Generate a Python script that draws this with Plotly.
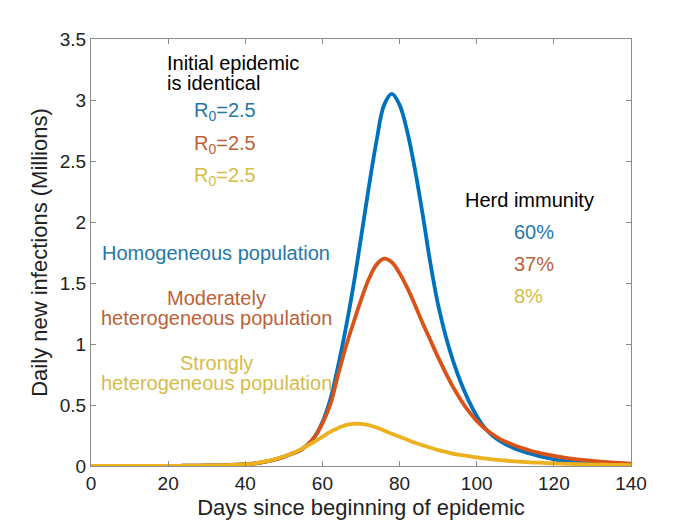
import plotly.graph_objects as go

# days since start of epidemic (every 2 days)
days = list(range(0, 142, 2))

# daily new infections in millions
homogeneous = [
    0.000, 0.000, 0.000, 0.000, 0.000, 0.000, 0.000, 0.001, 0.001, 0.001,
    0.001, 0.001, 0.002, 0.002, 0.003, 0.004, 0.005, 0.006, 0.008, 0.011,
    0.015, 0.020, 0.028, 0.040, 0.055, 0.075, 0.100, 0.125, 0.170, 0.240,
    0.360, 0.540, 0.810, 1.120, 1.470, 1.870, 2.280, 2.660, 2.960, 3.050,
    2.960, 2.740, 2.430, 2.060, 1.660, 1.320, 1.060, 0.850, 0.675, 0.530,
    0.410, 0.315, 0.252, 0.205, 0.170, 0.142, 0.120, 0.100, 0.083, 0.068,
    0.055, 0.044, 0.035, 0.028, 0.022, 0.017, 0.013, 0.010, 0.008, 0.006,
    0.005,
]
moderate = [
    0.000, 0.000, 0.000, 0.000, 0.000, 0.000, 0.000, 0.001, 0.001, 0.001,
    0.001, 0.001, 0.002, 0.002, 0.003, 0.004, 0.005, 0.006, 0.008, 0.011,
    0.015, 0.020, 0.028, 0.040, 0.055, 0.075, 0.100, 0.125, 0.170, 0.240,
    0.350, 0.500, 0.740, 0.970, 1.170, 1.360, 1.530, 1.650, 1.700, 1.670,
    1.580, 1.460, 1.320, 1.170, 1.030, 0.890, 0.760, 0.640, 0.535, 0.445,
    0.370, 0.310, 0.262, 0.223, 0.192, 0.166, 0.144, 0.125, 0.109, 0.095,
    0.083, 0.072, 0.063, 0.055, 0.048, 0.042, 0.036, 0.031, 0.027, 0.023,
    0.020,
]
strong = [
    0.000, 0.000, 0.000, 0.000, 0.000, 0.000, 0.000, 0.001, 0.001, 0.001,
    0.001, 0.001, 0.002, 0.002, 0.003, 0.004, 0.005, 0.006, 0.008, 0.011,
    0.015, 0.020, 0.030, 0.042, 0.058, 0.078, 0.100, 0.130, 0.165, 0.200,
    0.240, 0.280, 0.310, 0.335, 0.345, 0.345, 0.335, 0.315, 0.290, 0.265,
    0.240, 0.215, 0.190, 0.170, 0.150, 0.130, 0.115, 0.100, 0.090, 0.080,
    0.070, 0.062, 0.055, 0.049, 0.043, 0.038, 0.034, 0.030, 0.027, 0.024,
    0.021, 0.019, 0.017, 0.015, 0.013, 0.012, 0.011, 0.010, 0.009, 0.008,
    0.007,
]

scenario_names = ["Homogeneous population", "Moderately heterogeneous population",
                  "Strongly heterogeneous population"]
herd_immunity = ["60%", "37%", "8%"]
r0_labels = ["R<sub>0</sub>=2.5", "R<sub>0</sub>=2.5", "R<sub>0</sub>=2.5"]

x_ticks = [0, 20, 40, 60, 80, 100, 120, 140]
y_ticks = [0, 0.5, 1, 1.5, 2, 2.5, 3, 3.5]

# matlab default colour order
line_colors = ["#0072BD", "#D95319", "#EDB120"]
text_colors = ["#2577A8", "#BC6238", "#D6BC48"]
font = "Liberation Sans, Arial, sans-serif"

fig = go.Figure()
for name, vals, col in zip(scenario_names, [homogeneous, moderate, strong], line_colors):
    fig.add_trace(go.Scatter(x=days, y=vals, mode="lines", name=name,
                             line=dict(color=col, width=3.8, shape="spline", smoothing=1.0)))


def label(x, y, text, color="black", anchor="center"):
    fig.add_annotation(x=x, y=y, xref="x", yref="y", text=text, showarrow=False,
                       xanchor=anchor, yanchor="middle",
                       font=dict(family=font, size=20, color=color))


# left block of text
label(19.2, 3.30, "Initial epidemic", anchor="left")
label(19.2, 3.14, "is identical", anchor="left")
for i, (txt, col) in enumerate(zip(r0_labels, text_colors)):
    label(26.2, 2.905 - 0.267 * i, txt, col, "left")

label(32.5, 1.746, "Homogeneous population", text_colors[0])
label(32.5, 1.377, "Moderately", text_colors[1])
label(32.5, 1.213, "heterogeneous population", text_colors[1])
label(32.5, 0.844, "Strongly", text_colors[2])
label(32.5, 0.680, "heterogeneous population", text_colors[2])

# right block
label(113.8, 2.18, "Herd immunity")
for i, (txt, col) in enumerate(zip(herd_immunity, text_colors)):
    label(109.2, 1.918 - 0.262 * i, txt, col, "left")

axis_style = dict(showline=True, linecolor="#8a8a8a", linewidth=1, mirror="ticks",
                  ticks="inside", ticklen=5, tickcolor="#8a8a8a", showgrid=False,
                  zeroline=False, tickfont=dict(family=font, size=19, color="#222"))

fig.update_xaxes(range=[0, 140], tickvals=x_ticks,
                 title=dict(text="Days since beginning of epidemic",
                            font=dict(family=font, size=22, color="#222"), standoff=6),
                 **axis_style)
fig.update_yaxes(range=[0, 3.5], tickvals=y_ticks,
                 title=dict(text="Daily new infections (Millions)",
                            font=dict(family=font, size=22, color="#222"), standoff=6),
                 **axis_style)

# page body has an 8px margin, so the figure is shifted by that much
fig.update_layout(width=690, height=515, showlegend=False,
                  plot_bgcolor="white", paper_bgcolor="white",
                  margin=dict(l=83, r=67, t=31, b=57, autoexpand=False))

fig.write_html("out.html")
